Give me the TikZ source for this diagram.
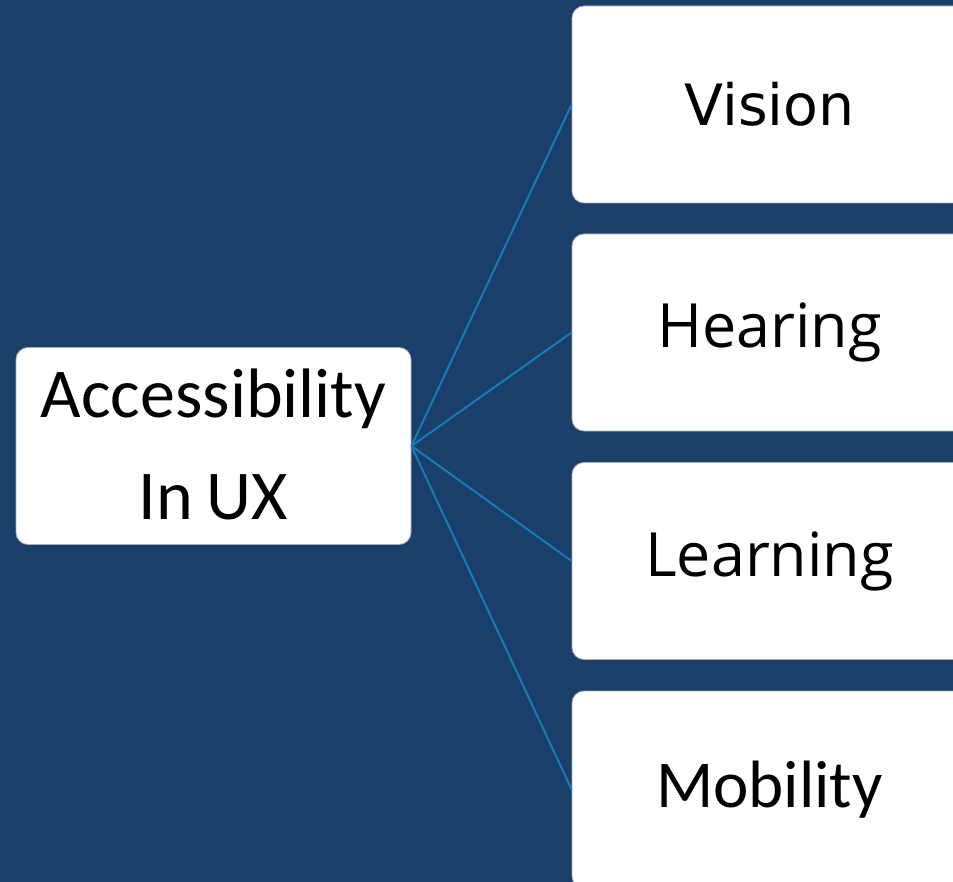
\documentclass[tikz,border=0pt]{standalone}
\usepackage{fontspec}
\setmainfont{Carlito}
\newfontfamily\dvfont{DejaVu Sans}
\newfontfamily\osfont{Open Sans}
\definecolor{bgblue}{RGB}{27,63,107}
\definecolor{linkblue}{RGB}{18,125,182}
\definecolor{edgegray}{RGB}{170,170,170}
\tikzset{
  card/.style={rectangle, rounded corners=12pt, fill=white, draw=edgegray, line width=0.8pt,
    minimum width=395pt, minimum height=197pt, inner sep=0pt, text=black, align=center},
  link/.style={draw=linkblue, line width=2pt},
}
\begin{document}
\begin{tikzpicture}[x=1pt,y=-1pt]
\useasboundingbox (0,0) rectangle (953,882);
\clip (0,0) rectangle (953,882);
\fill[bgblue] (0,0) rectangle (953,882);
\node[card, font=\fontsize{70}{102}\selectfont] (root) at (213.5,446) {\raisebox{3pt}{Accessibility}\\\raisebox{3pt}{In\kern-2pt{} UX}};
\node[card, font={\dvfont\fontsize{57}{60}\selectfont}] (vision) at (769.5,104.5) {\raisebox{2pt}{Vision}};
\node[card, font={\osfont\fontsize{61}{64}\selectfont}] (hearing) at (769.5,332.5) {Hearing};
\node[card, font={\osfont\fontsize{61}{64}\selectfont}] (learning) at (769.5,561) {Learning};
\node[card, font=\fontsize{67}{70}\selectfont] (mobility) at (769.5,789.5) {Mobility};
\foreach \n in {vision,hearing,learning,mobility}
  \draw[link] (root.east) -- (\n.west);
\end{tikzpicture}
\end{document}
